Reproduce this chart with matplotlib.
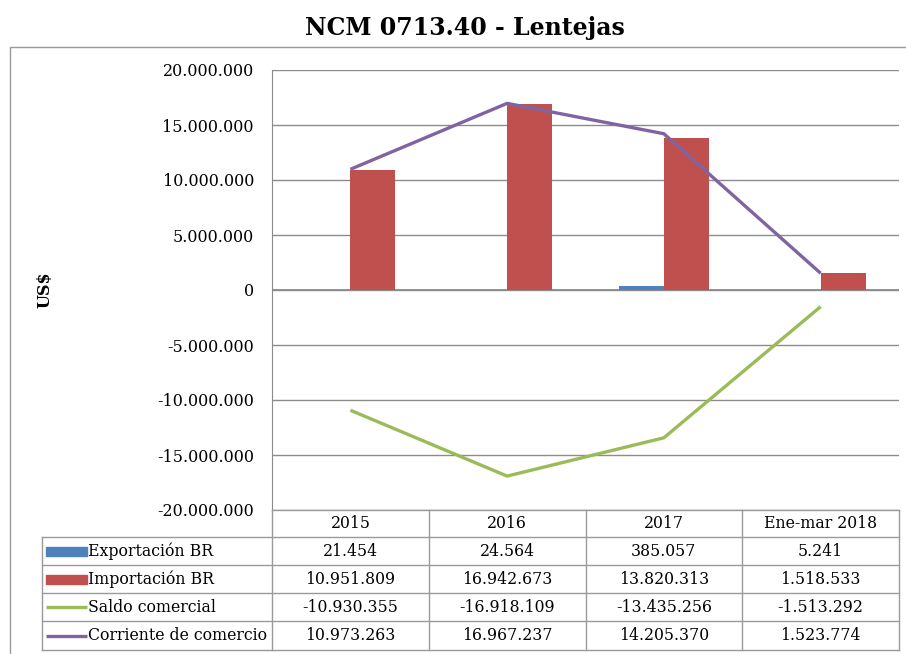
import numpy as np
import matplotlib
matplotlib.use('Agg')
import matplotlib.pyplot as plt
from matplotlib.patches import Rectangle

plt.rcParams['font.family'] = 'DejaVu Serif'

periodos = ['2015', '2016', '2017', 'Ene-mar 2018']
exportacion = [21454, 24564, 385057, 5241]
importacion = [10951809, 16942673, 13820313, 1518533]
saldo = [-10930355, -16918109, -13435256, -1513292]
corriente = [10973263, 16967237, 14205370, 1523774]

series = ['Exportación BR', 'Importación BR', 'Saldo comercial', 'Corriente de comercio']
colores = ['#4F81BD', '#C0504D', '#9BBB59', '#8064A2']
tipos = ['bar', 'bar', 'line', 'line']
valores = [exportacion, importacion, saldo, corriente]


def fmt(v):
    return f'{v:,.0f}'.replace(',', '.')


W, H = 906, 654
fig = plt.figure(figsize=(W / 100, H / 100), dpi=100)

# pixel layout
ax_l, ax_r, ax_t, ax_b = 272, 899, 70, 510
ax = fig.add_axes([ax_l / W, 1 - ax_b / H, (ax_r - ax_l) / W, (ax_b - ax_t) / H])

x = np.arange(len(periodos))
bw = 0.287
ax.bar(x - bw / 2, exportacion, width=bw, color=colores[0], zorder=2)
ax.bar(x + bw / 2, importacion, width=bw, color=colores[1], zorder=2)
ax.plot(x, saldo, color=colores[2], lw=2.4, zorder=3, solid_capstyle='butt')
ax.plot(x, corriente, color=colores[3], lw=2.4, zorder=3, solid_capstyle='butt')

ax.set_xlim(-0.5, len(periodos) - 0.5)
ax.set_ylim(-20000000, 20000000)
ax.set_yticks(np.arange(-20000000, 20000001, 5000000))
ax.set_yticklabels([fmt(v) for v in ax.get_yticks()], fontsize=11.5)
ax.tick_params(axis='y', length=0, pad=13)
ax.set_xticks([])
ax.grid(axis='y', color='#8c8c8c', lw=1, zorder=0)
ax.axhline(0, color='#8c8c8c', lw=1.3, zorder=1)
for s in ['top', 'right', 'bottom']:
    ax.spines[s].set_visible(False)
ax.spines['left'].set_color('#8c8c8c')

# overlay in pixel coordinates for title, border and data table
ov = fig.add_axes([0, 0, 1, 1], facecolor='none')
ov.set_xlim(0, W)
ov.set_ylim(H, 0)
ov.axis('off')

ov.text(465, 28, 'NCM 0713.40 - Lentejas', ha='center', va='center',
        fontsize=17, fontweight='bold')
ov.text(45, 290, 'US$', rotation=90, ha='center', va='center',
        fontsize=11.5, fontweight='bold')
ov.add_patch(Rectangle((10, 47), W, H, fill=False, ec='#9a9a9a', lw=1))

grid_c = '#9a9a9a'
col_w = (ax_r - ax_l) / len(periodos)
tab_l = 42
rows = [510, 537, 565, 593, 621, 650]

# header row
for i, p in enumerate(periodos):
    ov.text(ax_l + col_w * (i + 0.5), (rows[0] + rows[1]) / 2, p,
            ha='center', va='center', fontsize=11.3)
for i in range(len(periodos) + 1):
    ov.plot([ax_l + col_w * i] * 2, [rows[0], rows[-1]], color=grid_c, lw=1)
ov.plot([ax_l, ax_r], [rows[0], rows[0]], color=grid_c, lw=1)
ov.plot([tab_l, tab_l], [rows[1], rows[-1]], color=grid_c, lw=1)
for y in rows[1:]:
    ov.plot([tab_l, ax_r], [y, y], color=grid_c, lw=1)

for r, (nombre, col, tipo, vals) in enumerate(zip(series, colores, tipos, valores)):
    yc = (rows[r + 1] + rows[r + 2]) / 2
    if tipo == 'bar':
        ov.add_patch(Rectangle((46, yc - 4.5), 41, 9, color=col))
    else:
        ov.plot([46, 87], [yc, yc], color=col, lw=2.4, solid_capstyle='butt')
    ov.text(88, yc, nombre, ha='left', va='center', fontsize=11.3)
    for i, v in enumerate(vals):
        ov.text(ax_l + col_w * (i + 0.5), yc, fmt(v), ha='center', va='center',
                fontsize=11.3)

fig.savefig('out.png', dpi=100)
